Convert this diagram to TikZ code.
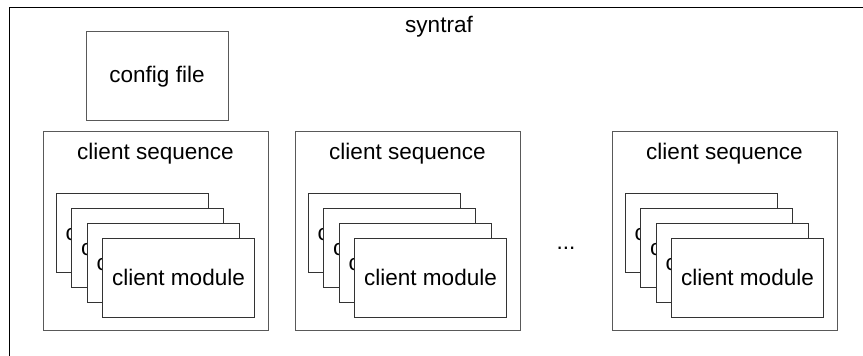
\documentclass[tikz,border=0pt]{standalone}
\usepackage{fontspec}
\setmainfont{Liberation Sans}

\begin{document}
\begin{tikzpicture}[x=0.75pt, y=-0.75pt, line width=0.75pt,
    every node/.style={font=\fontsize{16.9}{20}\selectfont}]

    % Define block styles
    \tikzstyle{frame} = [draw=black]
    \tikzstyle{block} = [rectangle, draw=black!65, inner sep=0pt, outer sep=0pt]
    \tikzstyle{config} = [block, minimum width=106.5pt, minimum height=66.75pt]
    \tikzstyle{sequence} = [block, minimum width=168.75pt, minimum height=148.5pt]
    \tikzstyle{module} = [block, draw=black!80, fill=white,
        minimum width=114pt, minimum height=59.25pt]

    \clip (0,0) rectangle (863,356);

    % Outer frame, runs off at the right and bottom
    \draw[frame] (9,8) rectangle (880,380);
    \node[anchor=base] (title) at (439,33) {syntraf};

    % Define nodes
    \node[config] (config) at (157,76.5) {config file};

    % Sequences, each with a stack of four modules
    \foreach \i/\x in {1/155.5, 2/407.5, 3/724.5} {
        \node[sequence] (seq\i) at (\x,231) {};
        \node[anchor=base] (seqlabel\i) at ([yshift=-21pt]seq\i.north) {client sequence};
        \foreach \k in {0,...,3} {
            \node[module] (mod\i-\k) at ({\x-23.5+15.5*\k},{232.5+15*\k}) {client module};
        }
    }

    \node[anchor=base] (dots) at (566,249) {...};

\end{tikzpicture}
\end{document}
